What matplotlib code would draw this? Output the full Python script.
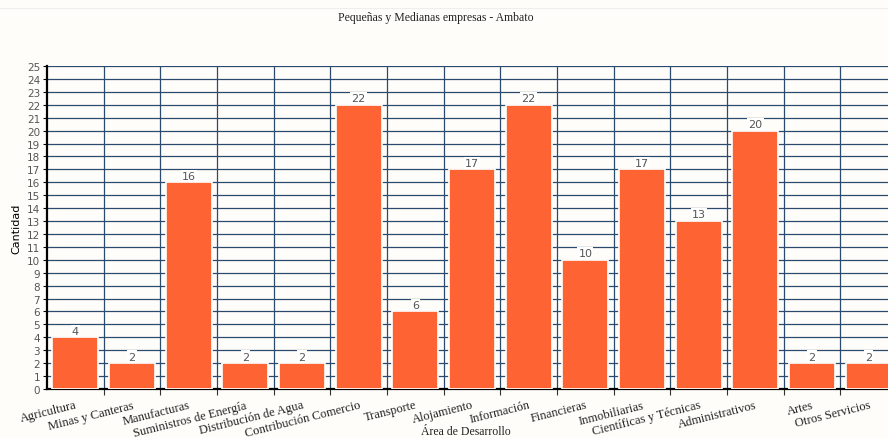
import matplotlib.pyplot as plt
import numpy as np

areas = ['Agricultura', 'Minas y Canteras', 'Manufacturas', 'Suministros de Energía',
         'Distribución de Agua', 'Contribución Comercio', 'Transporte', 'Alojamiento',
         'Información', 'Financieras', 'Inmobiliarias', 'Científicas y Técnicas',
         'Administrativos', 'Artes', 'Otros Servicios']
cantidad = [4, 2, 16, 2, 2, 22, 6, 17, 22, 10, 17, 13, 20, 2, 2]
y_ticks = list(range(0, 26))

bar_color = '#fe6433'
grid_color = '#2a4a6e'
bg = '#fffdf9'

fig = plt.figure(figsize=(8.88, 4.39), dpi=100, facecolor=bg)
# the plot runs slightly past the right edge of the figure
ax = fig.add_axes([47 / 888, 49 / 439, 850 / 888, 323 / 439])
ax.set_facecolor(bg)

x = np.arange(len(areas))
bars = ax.bar(x, cantidad, width=0.81, color=bar_color, edgecolor='white',
              linewidth=1.2, zorder=3)

for xi, v in zip(x, cantidad):
    ax.text(xi, v + 0.12, str(v), ha='center', va='bottom', fontsize=8,
            color='#555555', zorder=4,
            bbox=dict(boxstyle='square,pad=0.1', fc='white', ec='none'))

ax.set_xlim(-0.5, len(areas) - 0.5)
ax.set_ylim(0, 25)
ax.set_yticks(y_ticks)
ax.set_yticklabels([str(t) for t in y_ticks], fontsize=7.5, color='#555555')

# vertical grid on category boundaries
ax.set_xticks(x + 0.5, minor=True)
ax.set_xticks(x)
ax.set_xticklabels(areas, rotation=14, ha='right', rotation_mode='anchor',
                   family='Liberation Serif', fontsize=9, color='#222222')
ax.tick_params(axis='x', which='major', length=0, pad=7)
ax.tick_params(axis='x', which='minor', length=4, width=0.8, color='#333333')
ax.tick_params(axis='y', length=3, pad=2)

ax.grid(True, axis='y', which='major', color=grid_color, linewidth=0.9, zorder=0)
ax.grid(True, axis='x', which='minor', color=grid_color, linewidth=0.9, zorder=0)

for side in ['top', 'right']:
    ax.spines[side].set_visible(False)
ax.spines['left'].set_linewidth(1.6)
ax.spines['bottom'].set_linewidth(1.6)

ax.set_ylabel('Cantidad', fontsize=8, family='Liberation Sans Narrow', labelpad=4)
fig.text(466 / 888, 1 - 432 / 439, 'Área de Desarrollo', ha='center', va='center',
         family='Liberation Serif', fontsize=8.5, color='#222222')
fig.text(436 / 888, 1 - 18 / 439, 'Pequeñas y Medianas empresas - Ambato', ha='center',
         va='center', family='Liberation Serif', fontsize=8.5, color='#222222')
fig.add_artist(plt.Line2D([0, 1], [1 - 9 / 439] * 2, color='#eeeeee', linewidth=0.8))

fig.savefig('out.png', dpi=100, facecolor=bg)
